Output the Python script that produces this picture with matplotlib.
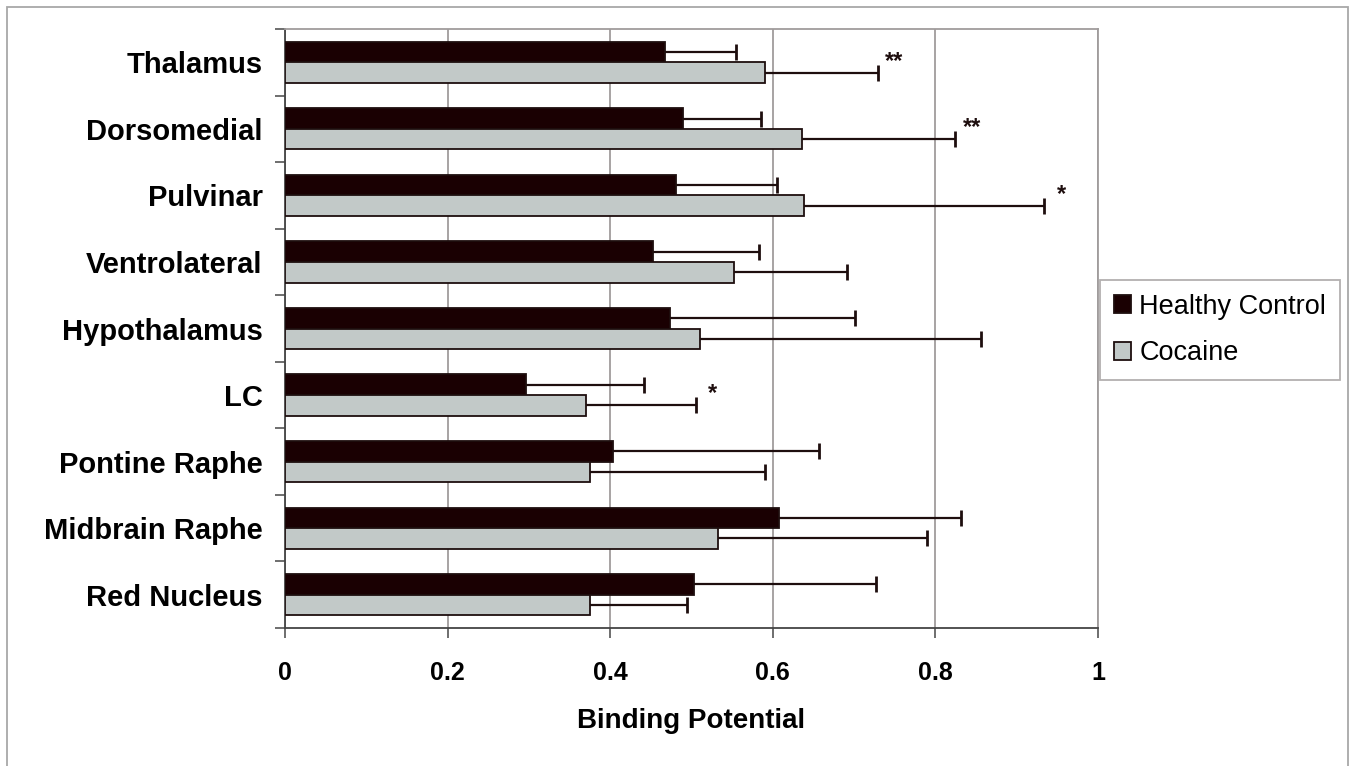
import matplotlib.pyplot as plt
import matplotlib.patches as mpatches
import numpy as np

regions = ["Thalamus", "Dorsomedial", "Pulvinar", "Ventrolateral", "Hypothalamus",
           "LC", "Pontine Raphe", "Midbrain Raphe", "Red Nucleus"]
healthy = [0.467, 0.489, 0.481, 0.453, 0.473, 0.296, 0.403, 0.608, 0.503]
healthy_err = [0.088, 0.096, 0.124, 0.130, 0.228, 0.146, 0.254, 0.224, 0.224]
cocaine = [0.590, 0.636, 0.638, 0.552, 0.511, 0.370, 0.375, 0.533, 0.375]
cocaine_err = [0.139, 0.188, 0.296, 0.139, 0.345, 0.135, 0.216, 0.257, 0.119]
signif = ["**", "**", "*", "", "", "*", "", "", ""]
xticks = [0, 0.2, 0.4, 0.6, 0.8, 1]
xticklabels = ["0", "0.2", "0.4", "0.6", "0.8", "1"]

HC_COLOR = "#1a0002"
COC_COLOR = "#c2c9c8"
EDGE = "#1e0e0e"
GRID = "#a09c9c"
FONT = ["Liberation Sans", "DejaVu Sans"]

fig = plt.figure(figsize=(13.52, 7.66), dpi=100)
ax = fig.add_axes([285 / 1352, 1 - 628 / 766, (1098 - 285) / 1352, (628 - 29) / 766])

n = len(regions)
y = np.arange(n)
h = 0.31

# black bars above, grey below (axis is inverted)
ax.barh(y - h / 2, healthy, height=h, color=HC_COLOR, edgecolor=EDGE, linewidth=1.3,
        label="Healthy Control", zorder=3)
ax.barh(y + h / 2, cocaine, height=h, color=COC_COLOR, edgecolor=EDGE, linewidth=1.3,
        label="Cocaine", zorder=3)

# one-sided error bars, cap only on the outer end
for vals, errs, off in [(healthy, healthy_err, -h / 2), (cocaine, cocaine_err, h / 2)]:
    ends = np.array(vals) + np.array(errs)
    ax.hlines(y + off, vals, ends, color=EDGE, linewidth=1.6, zorder=4)
    ax.plot(ends, y + off, linestyle="none", marker="|", markersize=11,
            markeredgewidth=2, color=EDGE, zorder=4)

# significance stars
for i in range(n):
    if signif[i]:
        ax.annotate(signif[i], (cocaine[i] + cocaine_err[i], y[i] + h / 2),
                    xytext=(12, 0), textcoords="offset points", ha="center", va="bottom",
                    fontsize=17, fontweight="bold", color=EDGE, family=FONT)

ax.set_xlim(0, 1)
ax.set_ylim(n - 0.5, -0.5)

ax.set_xticks(xticks)
ax.set_xticklabels(xticklabels, fontsize=18, fontweight="bold", family=FONT)
ax.tick_params(axis="x", direction="out", length=7, width=1.2, color="#555555", pad=17)

ax.set_yticks(y)
ax.set_yticklabels(regions, fontsize=21, fontweight="bold", family=FONT)
ax.tick_params(axis="y", length=0, pad=16)
ax.set_yticks(np.arange(n + 1) - 0.5, minor=True)
ax.tick_params(axis="y", which="minor", direction="out", length=7, width=1.2, color="#555555")

ax.set_xlabel("Binding Potential", fontsize=20, fontweight="bold", labelpad=16, family=FONT)

ax.grid(axis="x", color=GRID, linewidth=1.3, zorder=0)
ax.set_axisbelow(True)
for s in ["top", "right"]:
    ax.spines[s].set_color(GRID)
    ax.spines[s].set_linewidth(1.3)
for s in ["left", "bottom"]:
    ax.spines[s].set_color("#444444")
    ax.spines[s].set_linewidth(1.3)

leg = ax.legend(loc="center left", bbox_to_anchor=(1100 / 1352, 1 - 330 / 766),
                bbox_transform=fig.transFigure, fancybox=False,
                edgecolor=GRID, handlelength=0.65, handleheight=0.65, handletextpad=0.3,
                borderpad=0.5, labelspacing=0.75, borderaxespad=0,
                prop={"family": FONT, "size": 19.5})
leg.get_frame().set_linewidth(1.3)

# thin frame round the whole figure
fig.patches.append(mpatches.Rectangle((7 / 1352, -0.05), (1348 - 7) / 1352, 1.05 - 7 / 766,
                                      transform=fig.transFigure, fill=False,
                                      edgecolor="#a8a8a8", linewidth=1.3))

fig.savefig("out.png", dpi=100)
